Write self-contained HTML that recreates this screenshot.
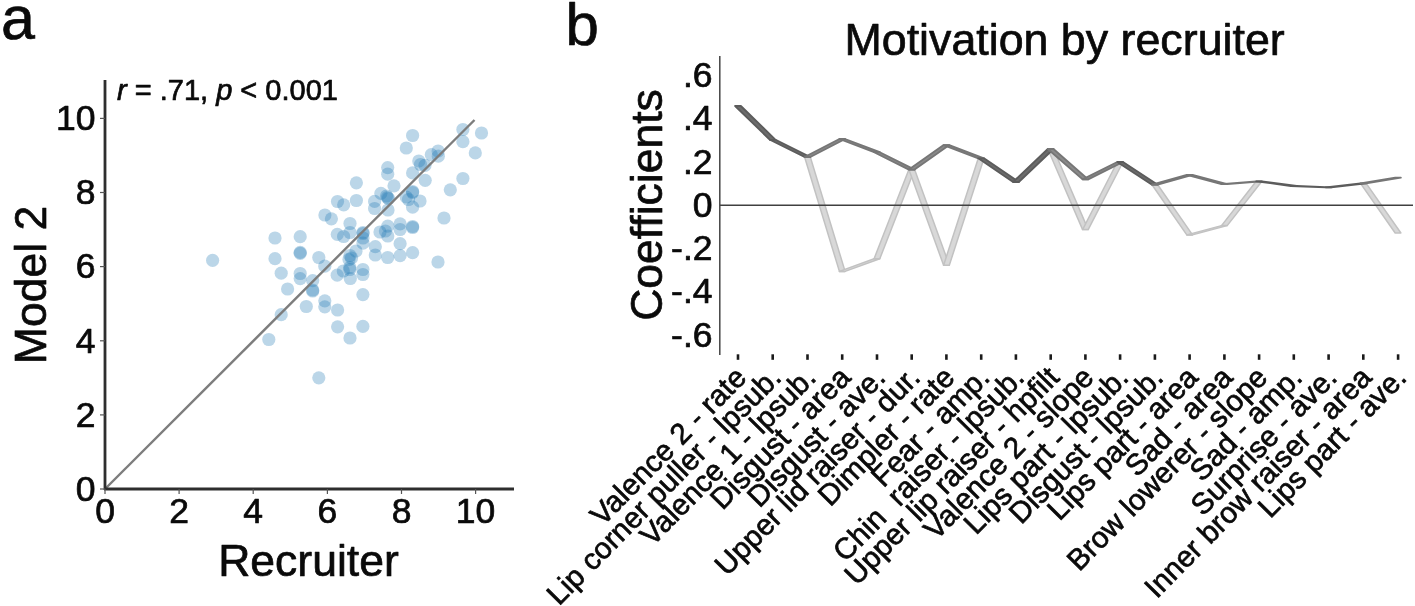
<!DOCTYPE html>
<html lang="en"><head><meta charset="utf-8"><title>Figure</title>
<style>html,body{margin:0;padding:0;background:#fff;}body{width:1415px;height:606px;overflow:hidden;}svg{display:block;}text{font-family:"Liberation Sans",Arial,Helvetica,sans-serif;fill:#0a0a0a;stroke:#0a0a0a;stroke-width:0.7px;stroke-linejoin:round;}</style></head><body>
<svg width="1415" height="606" viewBox="0 0 1415 606">
<rect width="1415" height="606" fill="#fff"/>
<text x="1" y="39.3" font-size="61">a</text>
<text x="565.5" y="45" font-size="60">b</text>
<g fill="#1f77b4" fill-opacity="0.3">
<circle cx="481.5" cy="133.0" r="6.6"/>
<circle cx="462.9" cy="129.5" r="6.6"/>
<circle cx="462.9" cy="141.7" r="6.6"/>
<circle cx="475.3" cy="152.9" r="6.6"/>
<circle cx="412.6" cy="135.5" r="6.6"/>
<circle cx="406.3" cy="148.0" r="6.6"/>
<circle cx="438.1" cy="151.0" r="6.6"/>
<circle cx="438.3" cy="156.2" r="6.6"/>
<circle cx="431.3" cy="154.7" r="6.6"/>
<circle cx="418.8" cy="161.0" r="6.6"/>
<circle cx="420.5" cy="164.5" r="6.6"/>
<circle cx="425.0" cy="165.3" r="6.6"/>
<circle cx="387.7" cy="167.6" r="6.6"/>
<circle cx="387.7" cy="174.2" r="6.6"/>
<circle cx="412.6" cy="172.9" r="6.6"/>
<circle cx="425.2" cy="180.3" r="6.6"/>
<circle cx="462.9" cy="178.5" r="6.6"/>
<circle cx="450.3" cy="189.8" r="6.6"/>
<circle cx="356.4" cy="182.8" r="6.6"/>
<circle cx="394.0" cy="185.8" r="6.6"/>
<circle cx="412.6" cy="191.5" r="6.6"/>
<circle cx="412.6" cy="192.5" r="6.6"/>
<circle cx="380.9" cy="193.3" r="6.6"/>
<circle cx="386.5" cy="196.0" r="6.6"/>
<circle cx="387.5" cy="197.5" r="6.6"/>
<circle cx="388.5" cy="198.5" r="6.6"/>
<circle cx="406.3" cy="197.0" r="6.6"/>
<circle cx="408.5" cy="199.5" r="6.6"/>
<circle cx="420.0" cy="201.0" r="6.6"/>
<circle cx="356.4" cy="200.5" r="6.6"/>
<circle cx="374.6" cy="201.4" r="6.6"/>
<circle cx="374.6" cy="208.5" r="6.6"/>
<circle cx="337.5" cy="201.5" r="6.6"/>
<circle cx="343.7" cy="204.8" r="6.6"/>
<circle cx="412.6" cy="207.2" r="6.6"/>
<circle cx="388.0" cy="210.0" r="6.6"/>
<circle cx="324.9" cy="215.0" r="6.6"/>
<circle cx="331.4" cy="218.8" r="6.6"/>
<circle cx="444.0" cy="218.0" r="6.6"/>
<circle cx="350.0" cy="223.5" r="6.6"/>
<circle cx="387.8" cy="226.2" r="6.6"/>
<circle cx="400.1" cy="223.8" r="6.6"/>
<circle cx="400.1" cy="229.5" r="6.6"/>
<circle cx="412.6" cy="226.5" r="6.6"/>
<circle cx="412.6" cy="227.5" r="6.6"/>
<circle cx="380.0" cy="232.0" r="6.6"/>
<circle cx="385.4" cy="231.0" r="6.6"/>
<circle cx="387.8" cy="236.0" r="6.6"/>
<circle cx="350.0" cy="232.5" r="6.6"/>
<circle cx="363.0" cy="232.5" r="6.6"/>
<circle cx="363.0" cy="233.5" r="6.6"/>
<circle cx="337.3" cy="234.3" r="6.6"/>
<circle cx="343.6" cy="236.5" r="6.6"/>
<circle cx="363.0" cy="238.0" r="6.6"/>
<circle cx="363.0" cy="243.2" r="6.6"/>
<circle cx="275.0" cy="238.0" r="6.6"/>
<circle cx="300.2" cy="236.7" r="6.6"/>
<circle cx="400.1" cy="243.7" r="6.6"/>
<circle cx="375.3" cy="246.7" r="6.6"/>
<circle cx="375.3" cy="255.0" r="6.6"/>
<circle cx="387.7" cy="257.5" r="6.6"/>
<circle cx="400.1" cy="255.6" r="6.6"/>
<circle cx="412.6" cy="252.6" r="6.6"/>
<circle cx="438.0" cy="262.0" r="6.6"/>
<circle cx="356.0" cy="251.0" r="6.6"/>
<circle cx="350.0" cy="255.5" r="6.6"/>
<circle cx="351.5" cy="258.0" r="6.6"/>
<circle cx="349.0" cy="259.5" r="6.6"/>
<circle cx="300.2" cy="252.3" r="6.6"/>
<circle cx="300.2" cy="253.3" r="6.6"/>
<circle cx="275.0" cy="258.7" r="6.6"/>
<circle cx="212.6" cy="260.3" r="6.6"/>
<circle cx="318.8" cy="257.5" r="6.6"/>
<circle cx="324.8" cy="266.2" r="6.6"/>
<circle cx="349.8" cy="267.5" r="6.6"/>
<circle cx="349.8" cy="269.5" r="6.6"/>
<circle cx="343.3" cy="271.0" r="6.6"/>
<circle cx="337.2" cy="275.2" r="6.6"/>
<circle cx="362.9" cy="269.5" r="6.6"/>
<circle cx="362.9" cy="274.5" r="6.6"/>
<circle cx="350.3" cy="278.5" r="6.6"/>
<circle cx="281.2" cy="273.2" r="6.6"/>
<circle cx="300.2" cy="273.5" r="6.6"/>
<circle cx="300.2" cy="278.6" r="6.6"/>
<circle cx="312.7" cy="280.6" r="6.6"/>
<circle cx="312.7" cy="290.0" r="6.6"/>
<circle cx="312.7" cy="291.0" r="6.6"/>
<circle cx="287.6" cy="289.0" r="6.6"/>
<circle cx="362.9" cy="294.6" r="6.6"/>
<circle cx="324.8" cy="300.8" r="6.6"/>
<circle cx="324.8" cy="306.8" r="6.6"/>
<circle cx="306.3" cy="306.5" r="6.6"/>
<circle cx="337.6" cy="310.0" r="6.6"/>
<circle cx="281.2" cy="314.7" r="6.6"/>
<circle cx="337.6" cy="326.8" r="6.6"/>
<circle cx="362.9" cy="326.4" r="6.6"/>
<circle cx="350.0" cy="338.0" r="6.6"/>
<circle cx="268.8" cy="339.5" r="6.6"/>
<circle cx="318.8" cy="377.8" r="6.6"/>
</g>
<line x1="105" y1="489" x2="474.5" y2="120" stroke="#7d7d7d" stroke-width="2.4"/>
<g stroke="#2e2e2e" stroke-width="2.8" fill="none">
<line x1="105" y1="80" x2="105" y2="490"/>
<line x1="104" y1="489" x2="514" y2="489"/>
</g>
<g stroke="#555" stroke-width="1.2">
<line x1="105.0" y1="489" x2="105.0" y2="494"/>
<line x1="100" y1="489.0" x2="105" y2="489.0"/>
<line x1="179.1" y1="489" x2="179.1" y2="494"/>
<line x1="100" y1="414.9" x2="105" y2="414.9"/>
<line x1="253.2" y1="489" x2="253.2" y2="494"/>
<line x1="100" y1="340.8" x2="105" y2="340.8"/>
<line x1="327.4" y1="489" x2="327.4" y2="494"/>
<line x1="100" y1="266.6" x2="105" y2="266.6"/>
<line x1="401.5" y1="489" x2="401.5" y2="494"/>
<line x1="100" y1="192.5" x2="105" y2="192.5"/>
<line x1="475.6" y1="489" x2="475.6" y2="494"/>
<line x1="100" y1="118.4" x2="105" y2="118.4"/>
</g>
<text x="105.0" y="523" font-size="35.5" text-anchor="middle">0</text>
<text x="95.5" y="500.7" font-size="35.5" text-anchor="end">0</text>
<text x="179.1" y="523" font-size="35.5" text-anchor="middle">2</text>
<text x="95.5" y="426.6" font-size="35.5" text-anchor="end">2</text>
<text x="253.2" y="523" font-size="35.5" text-anchor="middle">4</text>
<text x="95.5" y="352.5" font-size="35.5" text-anchor="end">4</text>
<text x="327.4" y="523" font-size="35.5" text-anchor="middle">6</text>
<text x="95.5" y="278.3" font-size="35.5" text-anchor="end">6</text>
<text x="401.5" y="523" font-size="35.5" text-anchor="middle">8</text>
<text x="95.5" y="204.2" font-size="35.5" text-anchor="end">8</text>
<text x="475.6" y="523" font-size="35.5" text-anchor="middle">10</text>
<text x="95.5" y="130.1" font-size="35.5" text-anchor="end">10</text>
<text x="308.5" y="576" font-size="44.5" text-anchor="middle">Recruiter</text>
<text transform="translate(46.3,285) rotate(-90)" font-size="44.5" text-anchor="middle">Model 2</text>
<text x="117" y="100" font-size="29" stroke-width="0.5"><tspan font-style="italic">r</tspan> = .71, <tspan font-style="italic">p</tspan> &lt; 0.001</text>
<text x="1064.6" y="54.5" font-size="44.75" text-anchor="middle">Motivation by recruiter</text>
<text transform="translate(661.5,205) rotate(-90)" font-size="44.5" text-anchor="middle">Coefficients</text>
<text x="712.5" y="86.9" font-size="35.5" text-anchor="end">.6</text>
<text x="712.5" y="130.2" font-size="35.5" text-anchor="end">.4</text>
<text x="712.5" y="173.5" font-size="35.5" text-anchor="end">.2</text>
<text x="712.5" y="216.8" font-size="35.5" text-anchor="end">0</text>
<text x="712.5" y="260.1" font-size="35.5" text-anchor="end">-.2</text>
<text x="712.5" y="303.4" font-size="35.5" text-anchor="end">-.4</text>
<text x="712.5" y="346.7" font-size="35.5" text-anchor="end">-.6</text>
<polygon points="804.6,157.0 810.3,157.0 845.1,271.4 839.4,271.4" fill="#d8d8d8" stroke="#c2c2c2" stroke-width="1.5" stroke-linejoin="round"/>
<polygon points="839.4,271.4 845.1,271.4 879.8,258.7 874.1,258.7" fill="#d8d8d8" stroke="#c2c2c2" stroke-width="1.5" stroke-linejoin="round"/>
<polygon points="874.1,258.7 879.8,258.7 914.6,169.6 908.9,169.6" fill="#d8d8d8" stroke="#c2c2c2" stroke-width="1.5" stroke-linejoin="round"/>
<polygon points="908.9,169.6 914.6,169.6 949.3,265.2 943.6,265.2" fill="#d8d8d8" stroke="#c2c2c2" stroke-width="1.5" stroke-linejoin="round"/>
<polygon points="943.6,265.2 949.3,265.2 984.0,158.3 978.3,158.3" fill="#d8d8d8" stroke="#c2c2c2" stroke-width="1.5" stroke-linejoin="round"/>
<polygon points="1047.8,149.0 1053.5,149.0 1088.2,229.6 1082.6,229.6" fill="#d8d8d8" stroke="#c2c2c2" stroke-width="1.5" stroke-linejoin="round"/>
<polygon points="1082.6,229.6 1088.2,229.6 1123.0,162.0 1117.3,162.0" fill="#d8d8d8" stroke="#c2c2c2" stroke-width="1.5" stroke-linejoin="round"/>
<polygon points="1152.0,184.7 1157.7,184.7 1192.5,234.9 1186.8,234.9" fill="#d8d8d8" stroke="#c2c2c2" stroke-width="1.5" stroke-linejoin="round"/>
<polygon points="1186.8,234.9 1192.5,234.9 1227.2,225.6 1221.5,225.6" fill="#d8d8d8" stroke="#c2c2c2" stroke-width="1.5" stroke-linejoin="round"/>
<polygon points="1221.5,225.6 1227.2,225.6 1261.9,181.3 1256.2,181.3" fill="#d8d8d8" stroke="#c2c2c2" stroke-width="1.5" stroke-linejoin="round"/>
<polygon points="1360.5,183.4 1366.2,183.4 1400.9,233.0 1395.2,233.0" fill="#d8d8d8" stroke="#c2c2c2" stroke-width="1.5" stroke-linejoin="round"/>
<line x1="720" y1="205.2" x2="1413" y2="205.2" stroke="#404040" stroke-width="1.6"/>
<polygon points="735.1,106.0 740.9,106.0 775.6,139.8 769.9,139.8" fill="#6c6c6c" stroke="#5c5c5c" stroke-width="1.8" stroke-linejoin="round"/>
<polygon points="769.9,139.8 775.6,139.8 810.3,157.0 804.6,157.0" fill="#6c6c6c" stroke="#5c5c5c" stroke-width="1.8" stroke-linejoin="round"/>
<polygon points="804.6,157.0 810.3,157.0 845.1,139.0 839.4,139.0" fill="#8a8a8a" stroke="#767676" stroke-width="1.8" stroke-linejoin="round"/>
<polygon points="839.4,139.0 845.1,139.0 879.8,152.2 874.1,152.2" fill="#8a8a8a" stroke="#767676" stroke-width="1.8" stroke-linejoin="round"/>
<polygon points="874.1,152.2 879.8,152.2 914.6,169.6 908.9,169.6" fill="#8a8a8a" stroke="#767676" stroke-width="1.8" stroke-linejoin="round"/>
<polygon points="908.9,169.6 914.6,169.6 949.3,145.1 943.6,145.1" fill="#8a8a8a" stroke="#767676" stroke-width="1.8" stroke-linejoin="round"/>
<polygon points="943.6,145.1 949.3,145.1 984.0,158.3 978.3,158.3" fill="#8a8a8a" stroke="#767676" stroke-width="1.8" stroke-linejoin="round"/>
<polygon points="978.3,158.3 984.0,158.3 1018.8,182.0 1013.1,182.0" fill="#6c6c6c" stroke="#5c5c5c" stroke-width="1.8" stroke-linejoin="round"/>
<polygon points="1013.1,182.0 1018.8,182.0 1053.5,149.0 1047.8,149.0" fill="#6c6c6c" stroke="#5c5c5c" stroke-width="1.8" stroke-linejoin="round"/>
<polygon points="1047.8,149.0 1053.5,149.0 1088.2,179.4 1082.6,179.4" fill="#8a8a8a" stroke="#767676" stroke-width="1.8" stroke-linejoin="round"/>
<polygon points="1082.6,179.4 1088.2,179.4 1123.0,162.0 1117.3,162.0" fill="#8a8a8a" stroke="#767676" stroke-width="1.8" stroke-linejoin="round"/>
<polygon points="1117.3,162.0 1123.0,162.0 1157.7,184.7 1152.0,184.7" fill="#6c6c6c" stroke="#5c5c5c" stroke-width="1.8" stroke-linejoin="round"/>
<polygon points="1152.0,184.7 1157.7,184.7 1192.5,174.9 1186.8,174.9" fill="#8a8a8a" stroke="#767676" stroke-width="1.8" stroke-linejoin="round"/>
<polygon points="1186.8,174.9 1192.5,174.9 1227.2,184.2 1221.5,184.2" fill="#8a8a8a" stroke="#767676" stroke-width="1.8" stroke-linejoin="round"/>
<polygon points="1221.5,184.2 1227.2,184.2 1261.9,181.3 1256.2,181.3" fill="#8a8a8a" stroke="#767676" stroke-width="1.8" stroke-linejoin="round"/>
<polygon points="1256.2,181.3 1261.9,181.3 1296.7,186.0 1291.0,186.0" fill="#6c6c6c" stroke="#5c5c5c" stroke-width="1.8" stroke-linejoin="round"/>
<polygon points="1291.0,186.0 1296.7,186.0 1331.4,187.3 1325.7,187.3" fill="#6c6c6c" stroke="#5c5c5c" stroke-width="1.8" stroke-linejoin="round"/>
<polygon points="1325.7,187.3 1331.4,187.3 1366.2,183.4 1360.5,183.4" fill="#6c6c6c" stroke="#5c5c5c" stroke-width="1.8" stroke-linejoin="round"/>
<polygon points="1360.5,183.4 1366.2,183.4 1400.9,177.6 1395.2,177.6" fill="#8a8a8a" stroke="#767676" stroke-width="1.8" stroke-linejoin="round"/>
<line x1="719.8" y1="56" x2="719.8" y2="355" stroke="#444" stroke-width="1.5"/>
<line x1="738.0" y1="354.3" x2="738.0" y2="359.8" stroke="#1a1a1a" stroke-width="2.6"/>
<line x1="772.7" y1="354.3" x2="772.7" y2="359.8" stroke="#1a1a1a" stroke-width="2.6"/>
<line x1="807.5" y1="354.3" x2="807.5" y2="359.8" stroke="#1a1a1a" stroke-width="2.6"/>
<line x1="842.2" y1="354.3" x2="842.2" y2="359.8" stroke="#1a1a1a" stroke-width="2.6"/>
<line x1="877.0" y1="354.3" x2="877.0" y2="359.8" stroke="#1a1a1a" stroke-width="2.6"/>
<line x1="911.7" y1="354.3" x2="911.7" y2="359.8" stroke="#1a1a1a" stroke-width="2.6"/>
<line x1="946.4" y1="354.3" x2="946.4" y2="359.8" stroke="#1a1a1a" stroke-width="2.6"/>
<line x1="981.2" y1="354.3" x2="981.2" y2="359.8" stroke="#1a1a1a" stroke-width="2.6"/>
<line x1="1015.9" y1="354.3" x2="1015.9" y2="359.8" stroke="#1a1a1a" stroke-width="2.6"/>
<line x1="1050.7" y1="354.3" x2="1050.7" y2="359.8" stroke="#1a1a1a" stroke-width="2.6"/>
<line x1="1085.4" y1="354.3" x2="1085.4" y2="359.8" stroke="#1a1a1a" stroke-width="2.6"/>
<line x1="1120.1" y1="354.3" x2="1120.1" y2="359.8" stroke="#1a1a1a" stroke-width="2.6"/>
<line x1="1154.9" y1="354.3" x2="1154.9" y2="359.8" stroke="#1a1a1a" stroke-width="2.6"/>
<line x1="1189.6" y1="354.3" x2="1189.6" y2="359.8" stroke="#1a1a1a" stroke-width="2.6"/>
<line x1="1224.4" y1="354.3" x2="1224.4" y2="359.8" stroke="#1a1a1a" stroke-width="2.6"/>
<line x1="1259.1" y1="354.3" x2="1259.1" y2="359.8" stroke="#1a1a1a" stroke-width="2.6"/>
<line x1="1293.8" y1="354.3" x2="1293.8" y2="359.8" stroke="#1a1a1a" stroke-width="2.6"/>
<line x1="1328.6" y1="354.3" x2="1328.6" y2="359.8" stroke="#1a1a1a" stroke-width="2.6"/>
<line x1="1363.3" y1="354.3" x2="1363.3" y2="359.8" stroke="#1a1a1a" stroke-width="2.6"/>
<line x1="1398.1" y1="354.3" x2="1398.1" y2="359.8" stroke="#1a1a1a" stroke-width="2.6"/>
<text transform="translate(748.0,379) rotate(-45.5)" font-size="29.5" letter-spacing="0.1" stroke-width="0.6" text-anchor="end">Valence 2 - rate</text>
<text transform="translate(782.7,379) rotate(-45.5)" font-size="29.5" letter-spacing="0.1" stroke-width="0.6" text-anchor="end">Lip corner puller - lpsub.</text>
<text transform="translate(817.5,379) rotate(-45.5)" font-size="29.5" letter-spacing="0.1" stroke-width="0.6" text-anchor="end">Valence 1 - lpsub.</text>
<text transform="translate(852.2,379) rotate(-45.5)" font-size="29.5" letter-spacing="0.1" stroke-width="0.6" text-anchor="end">Disgust - area</text>
<text transform="translate(887.0,379) rotate(-45.5)" font-size="29.5" letter-spacing="0.1" stroke-width="0.6" text-anchor="end">Disgust - ave.</text>
<text transform="translate(921.7,379) rotate(-45.5)" font-size="29.5" letter-spacing="0.1" stroke-width="0.6" text-anchor="end">Upper lid raiser - dur.</text>
<text transform="translate(956.4,379) rotate(-45.5)" font-size="29.5" letter-spacing="0.1" stroke-width="0.6" text-anchor="end">Dimpler - rate</text>
<text transform="translate(991.2,379) rotate(-45.5)" font-size="29.5" letter-spacing="0.1" stroke-width="0.6" text-anchor="end">Fear - amp.</text>
<text transform="translate(1025.9,379) rotate(-45.5)" font-size="29.5" letter-spacing="0.1" stroke-width="0.6" text-anchor="end">Chin&#160;&#160;raiser - lpsub.</text>
<text transform="translate(1060.7,379) rotate(-45.5)" font-size="29.5" letter-spacing="0.1" stroke-width="0.6" text-anchor="end">Upper lip raiser - hpfilt</text>
<text transform="translate(1095.4,379) rotate(-45.5)" font-size="29.5" letter-spacing="0.1" stroke-width="0.6" text-anchor="end">Valence 2 - slope</text>
<text transform="translate(1130.1,379) rotate(-45.5)" font-size="29.5" letter-spacing="0.1" stroke-width="0.6" text-anchor="end">Lips part - lpsub.</text>
<text transform="translate(1164.9,379) rotate(-45.5)" font-size="29.5" letter-spacing="0.1" stroke-width="0.6" text-anchor="end">Disgust - lpsub.</text>
<text transform="translate(1199.6,379) rotate(-45.5)" font-size="29.5" letter-spacing="0.1" stroke-width="0.6" text-anchor="end">Lips part - area</text>
<text transform="translate(1234.4,379) rotate(-45.5)" font-size="29.5" letter-spacing="0.1" stroke-width="0.6" text-anchor="end">Sad - area</text>
<text transform="translate(1269.1,379) rotate(-45.5)" font-size="29.5" letter-spacing="0.1" stroke-width="0.6" text-anchor="end">Brow lowerer - slope</text>
<text transform="translate(1303.8,379) rotate(-45.5)" font-size="29.5" letter-spacing="0.1" stroke-width="0.6" text-anchor="end">Sad - amp.</text>
<text transform="translate(1338.6,379) rotate(-45.5)" font-size="29.5" letter-spacing="0.1" stroke-width="0.6" text-anchor="end">Surprise - ave.</text>
<text transform="translate(1373.3,379) rotate(-45.5)" font-size="29.5" letter-spacing="0.1" stroke-width="0.6" text-anchor="end">Inner brow raiser - area</text>
<text transform="translate(1408.1,379) rotate(-45.5)" font-size="29.5" letter-spacing="0.1" stroke-width="0.6" text-anchor="end">Lips part - ave.</text>
</svg></body></html>
